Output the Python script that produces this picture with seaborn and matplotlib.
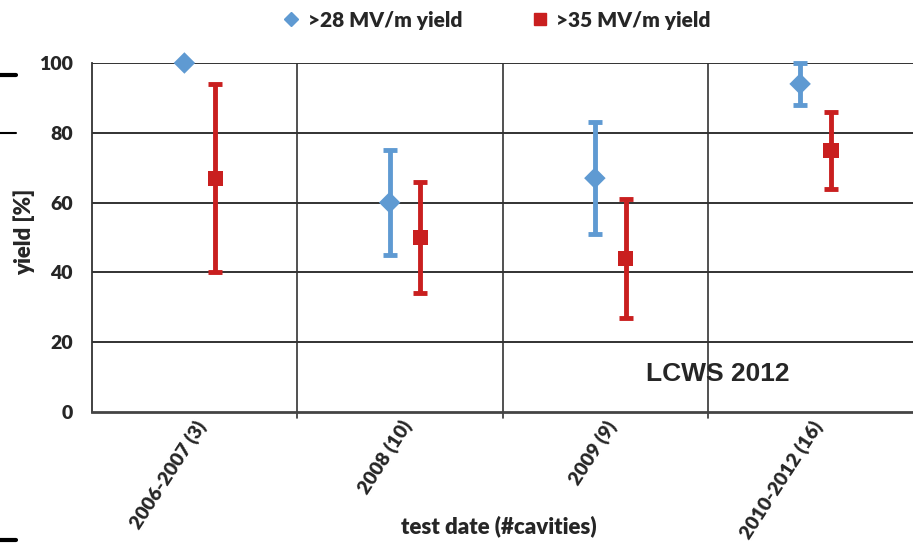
import numpy as np
import pandas as pd
import matplotlib
matplotlib.use("Agg")
import matplotlib.pyplot as plt
import seaborn as sns
from matplotlib.lines import Line2D

sns.set_style("white")
plt.rcParams['font.family'] = ['Lato', 'DejaVu Sans']
plt.rcParams['font.weight'] = 'heavy'

# data
categories = ['2006-2007 (3)', '2008 (10)', '2009 (9)', '2010-2012 (16)']
yield28 = [100, 60, 67, 94]
yield28_lo = [100, 45, 51, 88]
yield28_hi = [100, 75, 83, 100]
yield35 = [67, 50, 44, 75]
yield35_lo = [40, 34, 27, 64]
yield35_hi = [94, 66, 61, 86]

blue = '#5F9AD2'
red = '#C91F1F'

idx = np.arange(len(categories))
df = pd.DataFrame({
    'x': np.concatenate([idx + 0.45, idx + 0.60]),
    'yield': yield28 + yield35,
    'lo': yield28_lo + yield35_lo,
    'hi': yield28_hi + yield35_hi,
    'series': ['>28 MV/m yield'] * 4 + ['>35 MV/m yield'] * 4,
})

fig = plt.figure(figsize=(9.13, 5.43), dpi=100)
ax = fig.add_axes([0.1008, 0.2413, 0.8992, 0.6427])

# error bars
for (name, g), col in zip(df.groupby('series'), [blue, red]):
    ax.errorbar(g['x'], g['yield'], yerr=[g['yield'] - g['lo'], g['hi'] - g['yield']],
                fmt='none', ecolor=col, elinewidth=3.5, capsize=5, capthick=3.5,
                clip_on=False, zorder=3)

sns.scatterplot(data=df, x='x', y='yield', hue='series', style='series',
                palette=[blue, red], markers=['D', 's'], s=120,
                edgecolor='none', legend=False, ax=ax, zorder=4, clip_on=False)

ax.set_xlim(0, 4)
ax.set_ylim(0, 100)
ax.set_yticks([0, 20, 40, 60, 80, 100])
ax.set_xticks(idx + 0.5)
ax.set_xticklabels(categories, rotation=57, ha='right', rotation_mode='anchor',
                   fontsize=14, fontweight='heavy')
ax.tick_params(axis='x', length=0, pad=4)
ax.tick_params(axis='y', direction='inout', length=10, width=1.2, labelsize=14, pad=9)
for lab in ax.get_yticklabels():
    lab.set_fontweight('heavy')

# grid: horizontal at ticks, vertical at category borders
for yv in [20, 40, 60, 80, 100]:
    ax.axhline(yv, color='#222222', lw=1.3, zorder=1)
for xv in [1, 2, 3]:
    ax.axvline(xv, color='#333333', lw=1.2, zorder=1)
    ax.plot([xv, xv], [0, -1.6], color='#333333', lw=1.2, clip_on=False)

for s in ['top', 'right']:
    ax.spines[s].set_visible(False)
ax.spines['left'].set_color('#333333')
ax.spines['left'].set_linewidth(1.3)
ax.spines['bottom'].set_color('#444444')
ax.spines['bottom'].set_linewidth(2)

ax.set_xlabel('')
ax.set_ylabel('')
fig.text(0.5465, 0.03, 'test date (#cavities)', ha='center', va='center',
         fontsize=16, fontweight='heavy')
fig.text(0.027, 0.573, 'yield [%]', rotation=90, ha='center', va='center',
         fontsize=16, fontweight='heavy')

ax.text(3.05, 11, 'LCWS 2012', fontsize=19, fontweight='bold',
        family=['Liberation Sans', 'DejaVu Sans'], ha='center', va='center')

handles = [Line2D([], [], marker='D', color=blue, ls='none', markersize=7),
           Line2D([], [], marker='s', color=red, ls='none', markersize=8)]
fig.legend(handles, ['>28 MV/m yield', '>35 MV/m yield'], ncol=2, frameon=False,
           loc='center', bbox_to_anchor=(0.543, 0.963),
           handletextpad=0.3, columnspacing=3.2, handlelength=1.0,
           prop={'weight': 'heavy', 'size': 15})

# short black marks at the left edge
for yy, lw in [(75, 3), (133, 1.5), (540, 3)]:
    fig.add_artist(Line2D([0, 0.017], [1 - yy / 543] * 2, color='black', lw=lw))

fig.savefig('out.png', dpi=100)
